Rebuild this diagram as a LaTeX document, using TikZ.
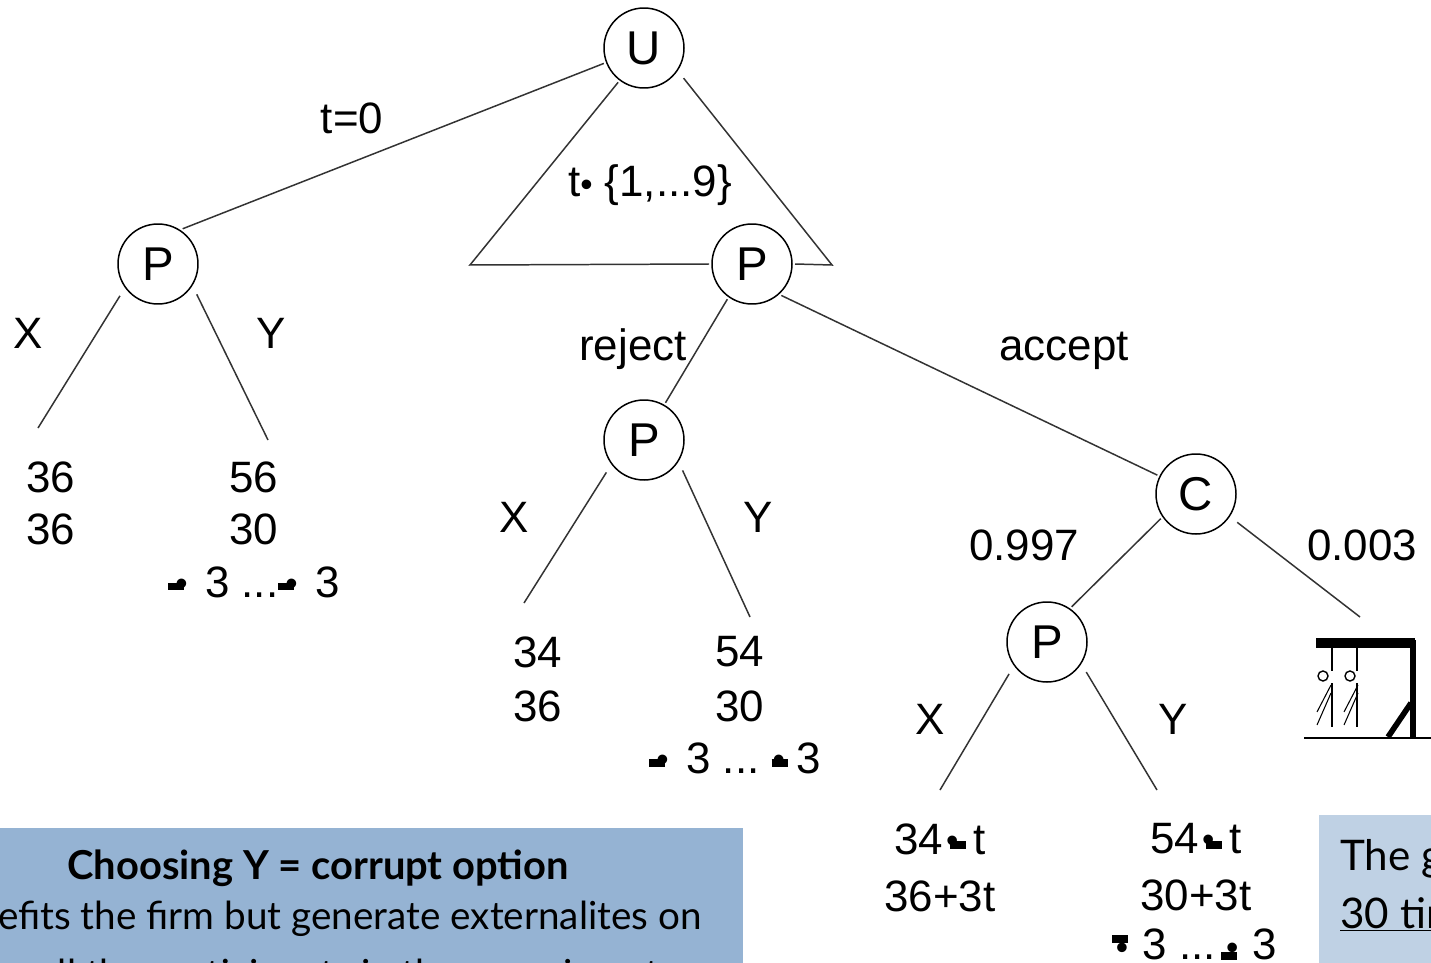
\documentclass[tikz,border=0pt]{standalone}
\usepackage{fontspec}
\setmainfont{Liberation Sans}
\newfontfamily\boxfont{Lato}
\usetikzlibrary{positioning}
% bar with a dot: bar shift, bar raise, dot shift, dot raise
\newcommand{\dotbar}[4]{\makebox[14pt][l]{\rlap{\kern#1\raisebox{#2}{\rule{9pt}{4.5pt}}}\rlap{\kern#3\raisebox{#4}{\fontsize{20}{20}\selectfont\textbullet}}}}
\tikzset{
    choice/.style={draw, circle, minimum size=0.02cm*80, inner sep=0pt, outer sep=0.02cm*3, line width=0.85pt, font=\fontsize{27}{27}\selectfont},
    branch/.style={line width=0.85pt, draw=black!80},
    leafbranch/.style={branch, shorten <=0.02cm*7},
    lbl/.style={inner sep=0pt, font=\fontsize{25}{25}\selectfont},
    payoff/.style={inner sep=0pt, align=center, anchor=north, font=\fontsize{25}{30}\selectfont},
    panel/.style={inner sep=0pt, font=\boxfont\fontsize{22}{29}\selectfont},
    note/.style={panel, anchor=base west, font=\boxfont\fontsize{24}{29}\selectfont}
}
\begin{document}
\begin{tikzpicture}[x=0.02cm, y=-0.02cm]
    \clip (0,0) rectangle (1431,963);
    \useasboundingbox (0,0) rectangle (1431,963);
    % decision nodes
    \node [choice] (U) at (644,48) {U};
    \node [choice] (Pa) at (158,264) {P};
    \node [choice] (Pb) at (752,264) {P};
    \node [choice] (Pc) at (644,440) {P};
    \node [choice] (C) at (1196,494) {C};
    \node [choice] (Pd) at (1047,642) {P};
    % free ends
    \coordinate (triL) at (470,265);
    \coordinate (triR) at (832,265);
    \coordinate (aX) at (38,428);
    \coordinate (aY) at (268,440);
    \coordinate (cX) at (524,603);
    \coordinate (cY) at (750,617);
    \coordinate (dX) at (940,790);
    \coordinate (dY) at (1157,790);
    \coordinate (cT) at (1360,617);
    % branches
    \draw [branch] (U.201) -- (Pa.55);
    \draw [branch] (U.-127) -- (triL) -- (Pb.180);
    \draw [leafbranch] (U.-35) -- (triR) -- (Pb.0);
    \draw [branch] (Pb.235) -- (Pc.60);
    \draw [branch] (Pb.-47) -- (C.154);
    \draw [branch] (C.215) -- (Pd.55);
    \draw [leafbranch] (Pa.217) -- (aX);
    \draw [leafbranch] (Pa.-34) -- (aY);
    \draw [leafbranch] (Pc.218) -- (cX);
    \draw [leafbranch] (Pc.-34) -- (cY);
    \draw [leafbranch] (Pd.217) -- (dX);
    \draw [leafbranch] (Pd.-34) -- (dY);
    \draw [leafbranch] (C.-34) -- (cT);
    % labels
    \node [lbl] (t0) at (352,118) {t=0};
    \node [lbl] (tset) at (650,185) {t\raisebox{0pt}{\fontsize{20}{20}\selectfont\textbullet} \{1,...9\}};
    \node [lbl] (aXl) at (28,333) {X};
    \node [lbl] (aYl) at (271,333) {Y};
    \node [lbl] (rej) at (633,349) {reject};
    \node [lbl] (acc) at (1064,351) {accept};
    \node [lbl] (cXl) at (514,517) {X};
    \node [lbl] (cYl) at (758,517) {Y};
    \node [lbl] (pr1) at (1024,545) {0.997};
    \node [lbl] (pr2) at (1362,545) {0.003};
    \node [lbl] (dXl) at (930,719) {X};
    \node [lbl] (dYl) at (1173,719) {Y};
    % payoffs
    \node [payoff] (payA) at (51,461) {36\\36};
    \node [payoff] (payB) at (254,461) {56\\30\\\dotbar{0pt}{4pt}{4pt}{1pt}\ 3 ...\dotbar{0pt}{4pt}{4pt}{1pt}\ 3};
    \node [payoff] (payC) at (538,636) {34\\[1pt]36};
    \node [payoff] (payD) at (740,636) {54\\[1pt]30\\\mbox{\dotbar{0pt}{4pt}{4pt}{1pt}\ 3 ...\ \dotbar{0pt}{3.7pt}{0.5pt}{1.5pt}3\kern5.6pt}};
    \node [payoff] (payE) at (940,823) {34\kern3pt\dotbar{1pt}{2.8pt}{-1.5pt}{1pt}t\\[2.5pt]36+3t};
    \node [payoff] (payF) at (1196,823) {54\kern3pt\dotbar{1pt}{2.8pt}{-1.5pt}{1pt}t\\[2.5pt]30+3t\\[-2pt]\mbox{\dotbar{0pt}{9.6pt}{2.2pt}{0pt}\kern3.5pt 3 ...\kern3pt\dotbar{0pt}{0pt}{2.7pt}{0pt}\kern3.5pt 3\kern2pt}};
    % gallows
    \fill (1316,638) rectangle (1415,648);
    \fill (1410,640) rectangle (1416,738);
    \draw [line width=3.2pt] (1388,737) -- (1411,703);
    \draw [line width=0.9pt] (1304,738) -- (1431,738);
    \foreach \px in {0,27} {
        \draw [line width=0.8pt] (1332+\px*0.92,648) -- (1332+\px*0.92,671);
        \draw [line width=0.8pt] (1323+\px,676) circle (5);
        \draw [line width=0.8pt] (1332+\px*0.92,683) -- (1332+\px*0.92,727);
        \draw [line width=0.6pt] (1317+\px,712) -- (1331+\px,685);
        \draw [line width=0.6pt] (1317+\px,725) -- (1331+\px,693);
    }
    % text panels
    \fill [fill={rgb,255:red,149;green,179;blue,211}] (0,828) rectangle (743,963);
    \fill [fill={rgb,255:red,191;green,209;blue,228}] (1319,815) rectangle (1431,963);
    \node [panel, font=\boxfont\bfseries\fontsize{22.7}{29}\selectfont] (ttl) at (318,868) {Choosing Y = corrupt option};
    \node [panel] (ln1) at (318,919) {benefits the firm but generate externalites on};
    \node [panel, anchor=east] (ln2) at (660,977) {all the participants in the experiment};
    \node [note] (gm1) at (1340,870) {The game};
    \node [note] (gm2) at (1340,928) {\underline{30 times}};
\end{tikzpicture}
\end{document}
